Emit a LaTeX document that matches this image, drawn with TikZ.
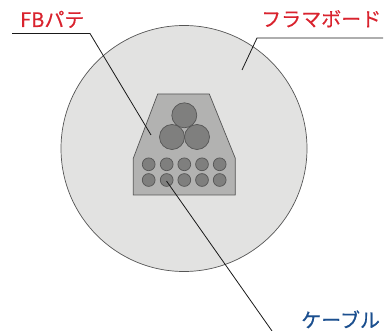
\documentclass[tikz,border=0pt]{standalone}
\usepackage{fontspec}
\setmainfont{Noto Sans CJK JP}
\newfontfamily\lblfont[RawFeature={embolden=0.35}]{Noto Sans CJK JP}
\definecolor{lblred}{HTML}{D9232E}
\definecolor{lblblue}{HTML}{1B4F8F}
\definecolor{boardfill}{HTML}{E2E2E1}
\definecolor{puttyfill}{HTML}{B2B2B1}
\definecolor{cablefill}{HTML}{7F7F7E}
\definecolor{edge}{HTML}{555555}
\tikzset{
  x=1pt,y=-1pt,
  board/.style={draw=edge,line width=0.7pt,fill=boardfill},
  putty/.style={draw=edge,line width=0.7pt,fill=puttyfill},
  bigcable/.style={circle,draw=edge,line width=0.7pt,fill=cablefill,minimum size=25pt,inner sep=0pt},
  smallcable/.style={circle,draw=edge,line width=0.7pt,fill=cablefill,minimum size=12.8pt,inner sep=0pt},
  leader/.style={draw=black!90,line width=0.8pt},
  lbl/.style={font=\lblfont\fontsize{20pt}{22pt}\selectfont,inner sep=0pt,anchor=base west}
}
\begin{document}
\begin{tikzpicture}
\useasboundingbox (0,0) rectangle (391,331);
\node[circle,board,minimum size=246pt,inner sep=0pt] (plate) at (184,148.5) {};
\draw[putty] (157.7,94) -- (209.3,94) -- (235.3,158.3) -- (235.3,195) -- (133.3,195) -- (133.3,158.3) -- cycle;
\node[bigcable] (b1) at (184.3,115.3) {};
\node[bigcable] (b2) at (172,137) {};
\node[bigcable] (b3) at (197,137) {};
\foreach \i/\x in {1/148.7,2/166.7,3/184.3,4/202,5/219.7}{
  \node[smallcable] (u\i) at (\x,164.3) {};
  \node[smallcable] (l\i) at (\x,180) {};
}
\node[lbl,text=lblred] (fb) at (20,27) {FBパテ};
\node[lbl,text=lblred] (frame) at (261,26.5) {フラマボード};
\node[lbl,text=lblblue] (cable) at (301,327.5) {ケーブル};
\coordinate (fbs) at (12,33.5);
\coordinate (fbk) at (90,33.5);
\coordinate (fbe) at (151,135);
\coordinate (frs) at (383,38);
\coordinate (frk) at (257,38);
\coordinate (fre) at (242,70);
\coordinate (cbs) at (272,331);
\coordinate (cbe) at (166.5,181);
\draw[leader] (fbs) -- (fbk) -- (fbe);
\draw[leader] (frs) -- (frk) -- (fre);
\draw[leader] (cbs) -- (cbe);
\end{tikzpicture}
\end{document}
